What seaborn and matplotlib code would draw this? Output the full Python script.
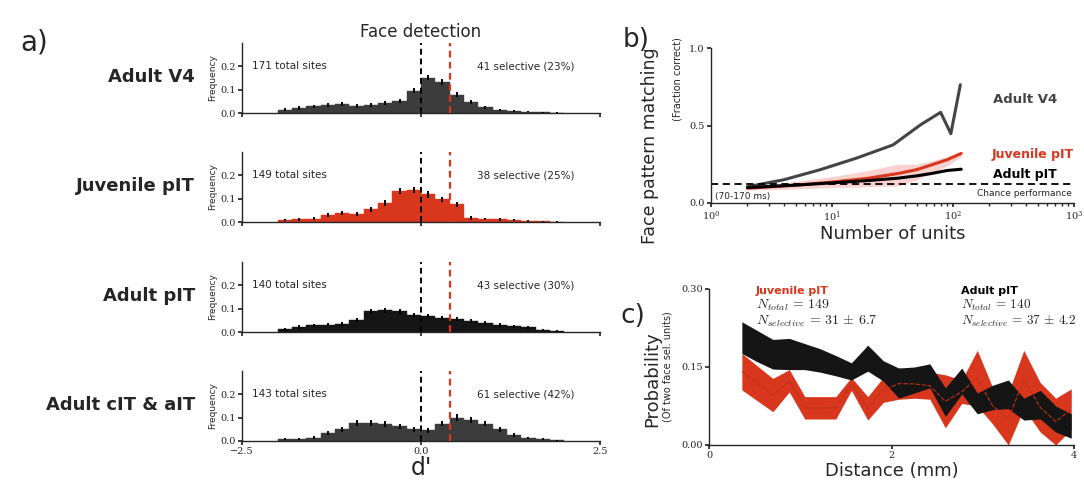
import numpy as np
import pandas as pd
import matplotlib
matplotlib.use("Agg")
import matplotlib.pyplot as plt
import seaborn as sns

# ---------------- data ----------------
# panel a: d' histograms (bin centers, bin width 0.2)
D_PRIME_CENTERS = [-1.9, -1.7, -1.5, -1.3, -1.1, -0.9, -0.7, -0.5, -0.3, -0.1,
                   0.1, 0.3, 0.5, 0.7, 0.9, 1.1, 1.3, 1.5, 1.7, 1.9]
BIN_WIDTH = 0.2
AREAS = ["Adult V4", "Juvenile pIT", "Adult pIT", "Adult cIT & aIT"]
FREQ_V4 = [0.015, 0.022, 0.028, 0.035, 0.038, 0.030, 0.033, 0.042, 0.050, 0.095,
           0.152, 0.132, 0.078, 0.048, 0.025, 0.014, 0.009, 0.006, 0.004, 0.002]
FREQ_JUV_PIT = [0.010, 0.012, 0.014, 0.030, 0.038, 0.035, 0.055, 0.082, 0.132, 0.137,
                0.118, 0.097, 0.076, 0.017, 0.013, 0.012, 0.007, 0.004, 0.003, 0.002]
FREQ_ADULT_PIT = [0.011, 0.022, 0.028, 0.032, 0.035, 0.050, 0.088, 0.093, 0.088, 0.072,
                  0.068, 0.060, 0.055, 0.047, 0.040, 0.030, 0.025, 0.020, 0.008, 0.004]
FREQ_CIT_AIT = [0.008, 0.010, 0.015, 0.033, 0.050, 0.078, 0.077, 0.073, 0.063, 0.050,
                0.046, 0.075, 0.100, 0.092, 0.075, 0.050, 0.025, 0.013, 0.009, 0.003]
ERR_V4 = [0.006, 0.007, 0.007, 0.008, 0.008, 0.007, 0.008, 0.008, 0.009, 0.011,
          0.012, 0.012, 0.010, 0.009, 0.007, 0.005, 0.004, 0.003, 0.002, 0.001]
ERR_JUV_PIT = [0.005, 0.006, 0.006, 0.009, 0.010, 0.010, 0.011, 0.012, 0.013, 0.014,
               0.013, 0.012, 0.011, 0.007, 0.006, 0.006, 0.004, 0.003, 0.002, 0.001]
ERR_ADULT_PIT = [0.005, 0.007, 0.007, 0.008, 0.008, 0.009, 0.011, 0.011, 0.011, 0.010,
                 0.010, 0.009, 0.009, 0.008, 0.008, 0.007, 0.007, 0.006, 0.004, 0.003]
ERR_CIT_AIT = [0.004, 0.005, 0.006, 0.008, 0.010, 0.012, 0.012, 0.012, 0.011, 0.010,
               0.010, 0.012, 0.014, 0.013, 0.012, 0.010, 0.008, 0.006, 0.005, 0.003]
TOTAL_SITES = ["171 total sites", "149 total sites", "140 total sites", "143 total sites"]
SELECTIVE = ["41 selective (23%)", "38 selective (25%)", "43 selective (30%)", "61 selective (42%)"]
THRESHOLD = 0.4

# panel b: face pattern matching vs number of units
V4_UNITS = [2, 4, 8, 16, 32, 54, 79, 96, 115]
V4_ACC = [0.105, 0.150, 0.215, 0.290, 0.375, 0.505, 0.585, 0.447, 0.763]
PIT_UNITS = [2, 5, 10, 20, 35, 50, 66, 90, 117]
JUV_ACC = [0.095, 0.115, 0.135, 0.160, 0.190, 0.215, 0.245, 0.280, 0.320]
JUV_LO = [0.085, 0.090, 0.100, 0.105, 0.110, 0.150, 0.190, 0.240, 0.300]
JUV_HI = [0.105, 0.140, 0.170, 0.210, 0.250, 0.250, 0.270, 0.300, 0.330]
ADULT_ACC = [0.100, 0.115, 0.130, 0.145, 0.160, 0.175, 0.190, 0.210, 0.218]
CHANCE = 0.125

# panel c: probability vs distance
DIST = [0.36, 0.53, 0.70, 0.88, 1.05, 1.22, 1.39, 1.56, 1.74, 1.91, 2.08,
        2.25, 2.42, 2.59, 2.77, 2.94, 3.11, 3.28, 3.45, 3.63, 3.80, 3.97]
JUV_P_HI = [0.176, 0.152, 0.128, 0.145, 0.093, 0.093, 0.093, 0.130, 0.093, 0.130, 0.148,
            0.145, 0.140, 0.135, 0.125, 0.182, 0.110, 0.100, 0.182, 0.120, 0.090, 0.108]
JUV_P_LO = [0.106, 0.085, 0.064, 0.102, 0.050, 0.050, 0.050, 0.105, 0.048, 0.082, 0.088,
            0.090, 0.088, 0.033, 0.080, 0.075, 0.040, 0.000, 0.070, 0.025, 0.000, 0.030]
ADU_P_HI = [0.237, 0.220, 0.203, 0.205, 0.195, 0.185, 0.172, 0.158, 0.192, 0.162, 0.148,
            0.150, 0.156, 0.110, 0.148, 0.100, 0.115, 0.125, 0.090, 0.105, 0.075, 0.060]
ADU_P_LO = [0.176, 0.160, 0.146, 0.145, 0.145, 0.140, 0.133, 0.125, 0.142, 0.123, 0.090,
            0.100, 0.110, 0.055, 0.098, 0.060, 0.068, 0.070, 0.048, 0.050, 0.025, 0.013]

# ---------------- style ----------------
sns.set_theme(style="ticks")
plt.rcParams["font.family"] = ["DejaVu Sans"]
plt.rcParams["mathtext.fontset"] = "cm"
plt.rcParams["axes.linewidth"] = 1.0
plt.rcParams["xtick.major.size"] = 3
plt.rcParams["ytick.major.size"] = 3
plt.rcParams["xtick.minor.size"] = 2

RED = "#d8361d"
DARK = "#3c3c3c"
BLACK = "#151515"
TICK_FS = 7

W, H = 1084, 493
fig = plt.figure(figsize=(W / 100, H / 100), dpi=100)


def px_axes(left, top, right, bottom):
    return fig.add_axes([left / W, 1 - bottom / H, (right - left) / W, (bottom - top) / H])


def serif_ticks(ax):
    for lbl in ax.get_xticklabels() + ax.get_yticklabels():
        lbl.set_fontfamily("DejaVu Serif")
        lbl.set_fontsize(TICK_FS)


# ---------------- panel a ----------------
freqs = [FREQ_V4, FREQ_JUV_PIT, FREQ_ADULT_PIT, FREQ_CIT_AIT]
errs = [ERR_V4, ERR_JUV_PIT, ERR_ADULT_PIT, ERR_CIT_AIT]
colors = [DARK, RED, BLACK, DARK]
bottoms = [113, 222, 332, 441]
centers = np.array(D_PRIME_CENTERS)
edges = [float(c - BIN_WIDTH / 2) for c in centers] + [float(centers[-1] + BIN_WIDTH / 2)]

for i in range(4):
    b = bottoms[i]
    ax = px_axes(242, b - 70, 600, b)
    df = pd.DataFrame({"d": centers, "f": freqs[i]})
    sns.histplot(data=df, x="d", weights="f", bins=edges, ax=ax, color=colors[i],
                 alpha=1, edgecolor=colors[i], linewidth=0.3)
    ax.errorbar(centers, freqs[i], yerr=errs[i], fmt="none", ecolor="black",
                elinewidth=1.4, capsize=0, zorder=4)
    ax.axvline(0, color="black", ls=(0, (3, 2)), lw=1.4, zorder=5)
    ax.axvline(THRESHOLD, color=RED, ls=(0, (3, 2)), lw=1.6, zorder=5)
    ax.set_xlim(-2.5, 2.5)
    ax.set_ylim(0, 0.3)
    ax.set_xticks([-2.5, 0.0, 2.5])
    ax.set_yticks([0.0, 0.1, 0.2])
    ax.set_ylabel("Frequency", fontsize=6.5, labelpad=2)
    if i < 3:
        ax.set_xticklabels([])
        ax.set_xlabel("")
    else:
        ax.set_xticklabels(["\u22122.5", "0.0", "2.5"])
        ax.set_xlabel("d'", fontsize=17, labelpad=0)
    ax.tick_params(axis="both", pad=1.5)
    sns.despine(ax=ax)
    serif_ticks(ax)
    ax.text(-2.36, 0.2, TOTAL_SITES[i], fontsize=7.5, va="center", ha="left")
    ax.text(0.78, 0.2, SELECTIVE[i], fontsize=7.5, va="center", ha="left")
    fig.text(195 / W, 1 - (b - 36) / H, AREAS[i], fontsize=13, fontweight="bold",
             ha="right", va="center")
    if i == 0:
        ax.set_title("Face detection", fontsize=12, pad=4)

fig.text(20 / W, 1 - 42 / H, "a)", fontsize=20, va="center", ha="left")

# ---------------- panel b ----------------
axb = px_axes(711, 48, 1074, 203)
axb.set_xscale("log")
axb.fill_between(PIT_UNITS, JUV_LO, JUV_HI, color="#f4a7a0", alpha=0.5, lw=0)
sns.lineplot(x=V4_UNITS, y=V4_ACC, ax=axb, color="#444444", lw=2.2)
sns.lineplot(x=PIT_UNITS, y=JUV_ACC, ax=axb, color=RED, lw=2.2)
sns.lineplot(x=PIT_UNITS, y=ADULT_ACC, ax=axb, color="black", lw=2.2)
axb.axhline(CHANCE, color="black", ls=(0, (4, 2.5)), lw=1.3)
axb.set_xlim(1, 1000)
axb.set_ylim(0, 1.0)
axb.set_yticks([0.0, 0.5, 1.0])
axb.set_xticks([1, 10, 100, 1000])
axb.tick_params(axis="both", pad=1.5)
sns.despine(ax=axb)
serif_ticks(axb)
axb.set_xlabel("Number of units", fontsize=13, labelpad=1)
axb.set_ylabel("")
axb.text(-0.168, 0.37, "Face pattern matching", transform=axb.transAxes, rotation=90,
         fontsize=12.5, ha="center", va="center")
axb.text(-0.092, 0.80, "(Fraction correct)", transform=axb.transAxes, rotation=90,
         fontsize=7, ha="center", va="center")
axb.text(0.776, 0.665, "Adult V4", transform=axb.transAxes, fontsize=9.5,
         fontweight="bold", color="#444444", va="center")
axb.text(0.772, 0.31, "Juvenile pIT", transform=axb.transAxes, fontsize=9,
         fontweight="bold", color=RED, va="center")
axb.text(0.778, 0.187, "Adult pIT", transform=axb.transAxes, fontsize=9,
         fontweight="bold", color="black", va="center")
axb.text(0.995, 0.06, "Chance performance", transform=axb.transAxes, fontsize=6.5,
         ha="right", va="center")
axb.text(0.01, 0.045, "(70-170 ms)", transform=axb.transAxes, fontsize=6.5,
         ha="left", va="center")
fig.text(623 / W, 1 - 40 / H, "b)", fontsize=19, va="center", ha="left")

# ---------------- panel c ----------------
axc = px_axes(709, 289, 1074, 445)
axc.fill_between(DIST, JUV_P_LO, JUV_P_HI, color=RED, lw=0, zorder=2)
axc.fill_between(DIST, ADU_P_LO, ADU_P_HI, color=BLACK, lw=0, zorder=3)
juv_mid = (np.array(JUV_P_LO) + np.array(JUV_P_HI)) / 2
sns.lineplot(x=DIST, y=juv_mid, ax=axc, color="#c0301a", lw=0.8, ls=(0, (4, 1.5)), zorder=4)
axc.set_xlim(0, 4)
axc.set_ylim(0, 0.3)
axc.set_xticks([0, 2, 4])
axc.set_yticks([0.0, 0.15, 0.30])
axc.set_yticklabels(["0.00", "0.15", "0.30"])
axc.tick_params(axis="both", pad=1.5)
sns.despine(ax=axc)
serif_ticks(axc)
axc.set_xlabel("Distance (mm)", fontsize=13, labelpad=1)
axc.set_ylabel("")
axc.text(-0.155, 0.42, "Probability", transform=axc.transAxes, rotation=90,
         fontsize=13, ha="center", va="center")
axc.text(-0.113, 0.50, "(Of two face sel. units)", transform=axc.transAxes, rotation=90,
         fontsize=7, ha="center", va="center")
axc.text(0.129, 0.985, "Juvenile pIT", transform=axc.transAxes, fontsize=8,
         fontweight="bold", color=RED, va="center")
axc.text(0.129, 0.895, r"$N_{total}\,=\,149$", transform=axc.transAxes, fontsize=10,
         va="center")
axc.text(0.129, 0.79, r"$N_{selective}\,=\,31\,\pm\,6.7$", transform=axc.transAxes,
         fontsize=10, va="center")
axc.text(0.690, 0.985, "Adult pIT", transform=axc.transAxes, fontsize=8,
         fontweight="bold", color="black", va="center")
axc.text(0.690, 0.895, r"$N_{total}\,=\,140$", transform=axc.transAxes, fontsize=9.5,
         va="center")
axc.text(0.690, 0.79, r"$N_{selective}\,=\,37\,\pm\,4.2$", transform=axc.transAxes,
         fontsize=9.5, va="center")
fig.text(620 / W, 1 - 316 / H, "c)", fontsize=19, va="center", ha="left")

fig.savefig("out.png", dpi=100)
